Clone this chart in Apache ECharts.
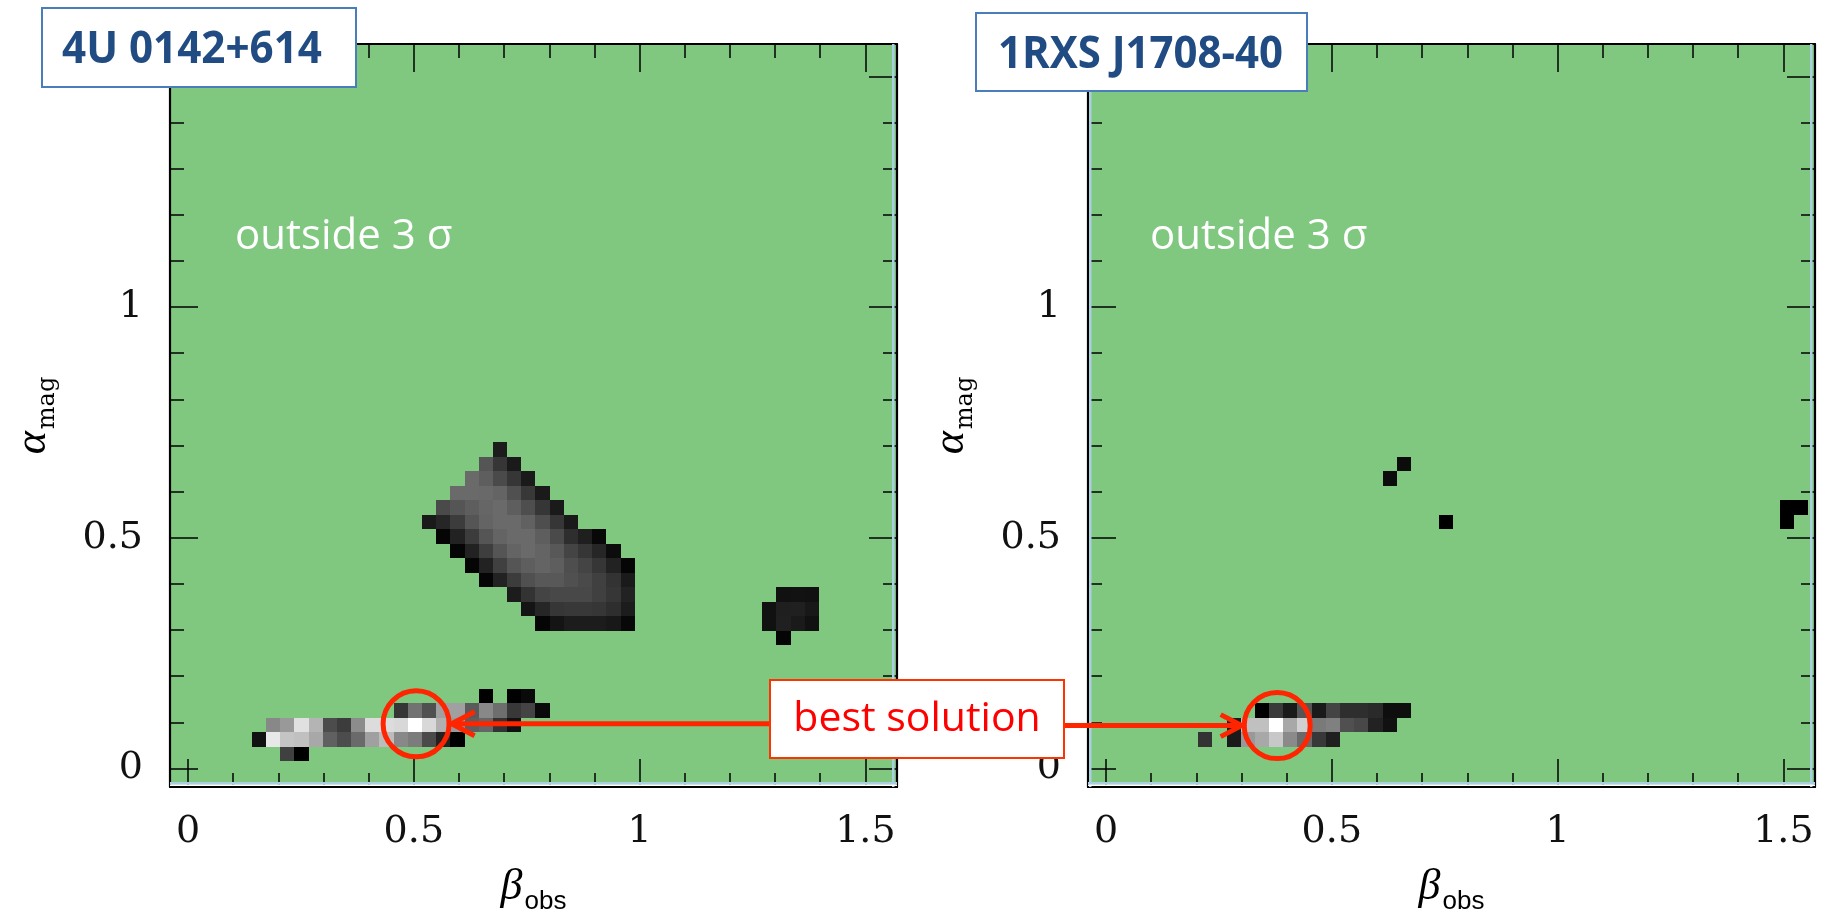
<!DOCTYPE html>
<html>
<head>
<meta charset="utf-8">
<script src="https://cdn.jsdelivr.net/npm/echarts@6/dist/echarts.min.js"></script>
<style>html,body{margin:0;padding:0;background:#fff}#c{width:1830px;height:910px}</style>
</head>
<body>
<div id="c"></div>
<script>
// ---------------- data ----------------
const GRID_STEP = 0.0314;              // spacing of the (beta_obs, alpha_mag) parameter grid
const X_MIN = -0.04, X_MAX = 1.57;
const Y_MIN = -0.04, Y_MAX = 1.57;
const xMajorTicks = [0, 0.5, 1, 1.5];
const xMinorTicks = [0.1, 0.2, 0.3, 0.4, 0.6, 0.7, 0.8, 0.9, 1.1, 1.2, 1.3, 1.4];
const yMajorTicks = [0, 0.5, 1, 1.5];
const yMinorTicks = [0.1, 0.2, 0.3, 0.4, 0.6, 0.7, 0.8, 0.9, 1.1, 1.2, 1.3, 1.4];
const panelTitles = ['4U 0142+614', '1RXS J1708-40'];
const regionLabel = 'outside 3 \u03c3';
const annotationText = 'best solution';

// rows of grid cells inside 3 sigma: [alpha row index, first beta column index, gray levels (null = outside)]
const leftRows = [
  [22, 22, [0x1c]],
  [21, 21, [0x55, 0x36, 0x1a]],
  [20, 20, [0x6a, 0x5e, 0x4a, 0x36, 0x1a]],
  [19, 19, [0x6a, 0x6a, 0x69, 0x64, 0x50, 0x38, 0x1a]],
  [18, 18, [0x4a, 0x55, 0x5e, 0x66, 0x6a, 0x5e, 0x4e, 0x36, 0x1a]],
  [17, 17, [0x1a, 0x26, 0x3c, 0x55, 0x64, 0x6a, 0x6a, 0x61, 0x4e, 0x36, 0x1a]],
  [16, 18, [0x05, 0x22, 0x3c, 0x55, 0x64, 0x6a, 0x6a, 0x5e, 0x4a, 0x2e, 0x1f, 0x08]],
  [15, 19, [0x05, 0x22, 0x3e, 0x55, 0x64, 0x6a, 0x64, 0x58, 0x44, 0x36, 0x26, 0x0c]],
  [14, 20, [0x05, 0x22, 0x40, 0x55, 0x5e, 0x64, 0x5e, 0x4e, 0x44, 0x36, 0x22, 0x05]],
  [13, 21, [0x05, 0x22, 0x3c, 0x50, 0x58, 0x58, 0x50, 0x4a, 0x40, 0x33, 0x1a]],
  [12, 23, [0x1c, 0x33, 0x44, 0x48, 0x48, 0x48, 0x40, 0x36, 0x22]],
  [11, 24, [0x14, 0x26, 0x36, 0x38, 0x38, 0x36, 0x2e, 0x1c]],
  [10, 25, [0x05, 0x14, 0x1c, 0x1c, 0x1c, 0x18, 0x08]],
  [12, 42, [0x11, 0x12, 0x11]],
  [11, 41, [0x11, 0x1f, 0x20, 0x18]],
  [10, 41, [0x11, 0x20, 0x1a, 0x11]],
  [9, 42, [0x05]],
  [5, 21, [0x00, null, 0x00, 0x0a]],
  [4, 15, [0x36, 0x72, 0x50, 0xa0, 0xa0, 0x5a, 0x88, 0x6e, 0x38, 0x44, 0x0a]],
  [3, 6, [0x88, 0x99, 0xe0, 0xb4, 0x4c, 0x3c, 0x8c, 0xdc, 0xdc, 0xd8, 0xff, 0xd8, 0xb0, 0x99, 0x5e, 0x66, 0x33, 0x11]],
  [2, 5, [0x11, 0xe8, 0xc4, 0xc0, 0xa8, 0x60, 0x4c, 0x6a, 0xa0, 0xbc, 0x88, 0x7c, 0x4a, 0x22, 0x00]],
  [1, 7, [0x40, 0x00]]
];
const rightRows = [
  [21, 21, [0x0c]],
  [20, 20, [0x0c]],
  [17, 24, [0x00]],
  [18, 48, [0x00, 0x00]],
  [17, 48, [0x00]],
  [4, 11, [0x00, 0x3a, 0x1a, 0x55, 0x1a, 0x44, 0x2e, 0x2e, 0x2a, 0x0e, 0x0e]],
  [3, 9, [0x1a, 0xc0, 0xc0, 0xff, 0xa8, 0xd0, 0x7a, 0x80, 0x50, 0x48, 0x22, 0x11]],
  [2, 7, [0x33, null, 0x1a, 0x99, 0xa8, 0xc8, 0x8a, 0x6a, 0x38, 0x1f]]
];
const bestLeft = [0.505, 0.097];
const bestRight = [0.379, 0.093];

// ---------------- build ----------------
function toCells(rows) {
  const out = [];
  rows.forEach(function (r) {
    r[2].forEach(function (g, k) {
      if (g !== null) out.push([(r[1] + k) * GRID_STEP, r[0] * GRID_STEP, g]);
    });
  });
  return out;
}
const cells = [toCells(leftRows), toCells(rightRows)];

const GREEN = '#80c880';
const RED = '#ff2500';
const STRIP = '#a9cfe0';
const LABEL_STYLE = { fontFamily: "'DejaVu Serif', serif", fontSize: 38, color: '#111' };
const GREEK = { fontFamily: "'Liberation Serif', serif", fontStyle: 'italic', fontSize: 44, color: '#000' };

function renderCell(params, api) {
  const x = api.value(0), y = api.value(1), g = api.value(2);
  const p0 = api.coord([x - GRID_STEP / 2, y + GRID_STEP / 2]);
  const p1 = api.coord([x + GRID_STEP / 2, y - GRID_STEP / 2]);
  const x0 = Math.round(p0[0]), y0 = Math.round(p0[1]);
  const x1 = Math.round(p1[0]), y1 = Math.round(p1[1]);
  return {
    type: 'rect',
    shape: { x: x0, y: y0, width: x1 - x0, height: y1 - y0 },
    style: { fill: 'rgb(' + g + ',' + g + ',' + g + ')' }
  };
}

function tickStyle(vals, len) {
  return { show: true, inside: true, length: len, customValues: vals, lineStyle: { color: '#000', width: 1.5 } };
}
const LINE = { show: true, onZero: false, lineStyle: { color: '#000', width: 2.2 } };
const NOLINE = { show: false, onZero: false };

function xAxes(g) {
  const base = { type: 'value', gridIndex: g, min: X_MIN, max: X_MAX, splitLine: { show: false }, axisLabel: { show: false } };
  return [
    Object.assign({}, base, {
      position: 'bottom', axisLine: LINE, axisTick: tickStyle(xMajorTicks, 28),
      axisLabel: Object.assign({ show: true, customValues: xMajorTicks, margin: 26, formatter: function (v) { return String(v); } }, LABEL_STYLE),
      name: '{b|\u03b2}{s|obs}', nameLocation: 'middle', nameGap: 72,
      nameTextStyle: { color: '#000', rich: { b: GREEK, s: { fontFamily: "'Liberation Sans', sans-serif", fontSize: 26, color: '#000', padding: [30, 0, 0, 2] } } }
    }),
    Object.assign({}, base, { position: 'bottom', axisLine: NOLINE, axisTick: tickStyle(xMinorTicks, 14) }),
    Object.assign({}, base, { position: 'top', axisLine: LINE, axisTick: tickStyle(xMajorTicks, 28) }),
    Object.assign({}, base, { position: 'top', axisLine: NOLINE, axisTick: tickStyle(xMinorTicks, 14) })
  ];
}
function yAxes(g) {
  const base = { type: 'value', gridIndex: g, min: Y_MIN, max: Y_MAX, splitLine: { show: false }, axisLabel: { show: false } };
  return [
    Object.assign({}, base, {
      position: 'left', axisLine: LINE, axisTick: tickStyle(yMajorTicks, 28),
      axisLabel: Object.assign({ show: true, customValues: yMajorTicks, margin: 27, formatter: function (v) { return String(v); } }, LABEL_STYLE),
      name: '{b|\u03b1}{s|mag}', nameLocation: 'middle', nameGap: 110, nameRotate: 90,
      nameTextStyle: { color: '#000', rich: { b: GREEK, s: { fontFamily: "'DejaVu Serif', serif", fontSize: 24, color: '#000', padding: [30, 0, 0, 2] } } }
    }),
    Object.assign({}, base, { position: 'left', axisLine: NOLINE, axisTick: tickStyle(yMinorTicks, 14) }),
    Object.assign({}, base, { position: 'right', axisLine: LINE, axisTick: tickStyle(yMajorTicks, 28) }),
    Object.assign({}, base, { position: 'right', axisLine: NOLINE, axisTick: tickStyle(yMinorTicks, 14) })
  ];
}

const GRIDS = [
  { left: 170, top: 44, width: 727, height: 743 },
  { left: 1088, top: 44, width: 727, height: 743 }
];
const chart = echarts.init(document.getElementById('c'), null, { renderer: 'canvas' });
const option = {
  animation: false,
  backgroundColor: '#fff',
  grid: GRIDS.map(function (r) {
    return Object.assign({ show: true, backgroundColor: GREEN, borderWidth: 0, containLabel: false, outerBoundsMode: 'none' }, r);
  }),
  xAxis: xAxes(0).concat(xAxes(1)),
  yAxis: yAxes(0).concat(yAxes(1)),
  series: [0, 1].map(function (g) {
    return { type: 'custom', xAxisIndex: g * 4, yAxisIndex: g * 4, data: cells[g], renderItem: renderCell, encode: { x: 0, y: 1 }, clip: true, silent: true, z: 2 };
  }).concat([bestLeft, bestRight].map(function (p, g) {
    return { type: 'scatter', xAxisIndex: g * 4, yAxisIndex: g * 4, data: [p], symbol: 'circle', symbolSize: 66, silent: true, z: 5,
      itemStyle: { color: 'rgba(0,0,0,0)', borderColor: RED, borderWidth: 5, opacity: 1 } };
  }))
};
chart.setOption(option);

// ---------------- annotations ----------------
const pL = chart.convertToPixel({ xAxisIndex: 0, yAxisIndex: 0 }, bestLeft);
const pR = chart.convertToPixel({ xAxisIndex: 4, yAxisIndex: 4 }, bestRight);
const R_OUT = 35.5;
const box = { x: 770, y: 680, w: 294, h: 78 };
const tipL = pL[0] + R_OUT, tipR = pR[0] - R_OUT;

const measureCtx = document.createElement('canvas').getContext('2d');
const TITLE_FONT = "bold 45px 'Open Sans', sans-serif";
function titleBox(x, y, w, h, text, textLeft, textWidth) {
  measureCtx.font = TITLE_FONT;
  const natural = measureCtx.measureText(text).width;
  return [
    { type: 'rect', z: 100, shape: { x: x, y: y, width: w, height: h }, style: { fill: '#fff', stroke: '#4a7ebb', lineWidth: 2 } },
    { type: 'text', z: 101, x: textLeft, y: y + h / 2 + 3, scaleX: textWidth / natural, originX: 0, originY: 0,
      style: { text: text, x: 0, y: 0, fill: '#214c83', font: TITLE_FONT, verticalAlign: 'middle', align: 'left' } }
  ];
}
// thin light strips between the map image and the frame
function strips(g) {
  const r = GRIDS[g];
  const list = [
    { x: r.left, y: r.top + r.height - 5, width: r.width, height: 2.5 },
    { x: r.left + r.width - 5, y: r.top, width: 2.5, height: r.height }
  ];
  if (g === 1) list.push({ x: r.left + 1, y: r.top, width: 2.5, height: r.height });
  return list.map(function (s) { return { type: 'rect', z: 40, shape: s, style: { fill: STRIP } }; })
    .concat([{ type: 'rect', z: 40, shape: { x: r.left, y: r.top + r.height - 2.5, width: r.width, height: 1.5 }, style: { fill: '#fff' } }]);
}
const elements = []
  .concat(strips(0)).concat(strips(1))
  .concat(titleBox(42, 8, 314, 79, panelTitles[0], 62, 260))
  .concat(titleBox(976, 13, 331, 78, panelTitles[1], 998, 285))
  .concat([
    { type: 'text', z: 50, style: { text: regionLabel, x: 235, y: 237, fill: '#fff', font: "42px 'Open Sans', sans-serif", verticalAlign: 'middle' } },
    { type: 'text', z: 50, style: { text: regionLabel, x: 1150, y: 237, fill: '#fff', font: "42px 'Open Sans', sans-serif", verticalAlign: 'middle' } },
    // arrows
    { type: 'line', z: 60, shape: { x1: box.x, y1: pL[1], x2: tipL + 2, y2: pL[1] }, style: { stroke: RED, lineWidth: 5 } },
    { type: 'polyline', z: 60, shape: { points: [[tipL + 23, pL[1] - 12], [tipL, pL[1]], [tipL + 23, pL[1] + 12]] }, style: { stroke: RED, lineWidth: 5, fill: null, lineJoin: 'miter' } },
    { type: 'line', z: 60, shape: { x1: box.x + box.w, y1: pR[1], x2: tipR - 2, y2: pR[1] }, style: { stroke: RED, lineWidth: 5 } },
    { type: 'polyline', z: 60, shape: { points: [[tipR - 21, pR[1] - 11], [tipR, pR[1]], [tipR - 21, pR[1] + 11]] }, style: { stroke: RED, lineWidth: 5, fill: null, lineJoin: 'miter' } },
    // best solution box
    { type: 'rect', z: 100, shape: { x: box.x, y: box.y, width: box.w, height: box.h }, style: { fill: '#fff', stroke: '#ff3300', lineWidth: 2 } },
    { type: 'text', z: 101, style: { text: annotationText, x: box.x + box.w / 2, y: box.y + box.h / 2, fill: '#ff0000', font: "41px 'Open Sans', sans-serif", align: 'center', verticalAlign: 'middle' } }
  ]);
chart.setOption({ graphic: { elements: elements } });
</script>
</body>
</html>
